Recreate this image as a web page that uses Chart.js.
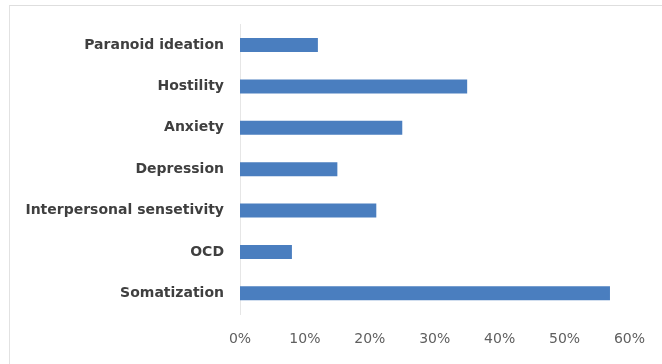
<!DOCTYPE html>
<html>
<head>
<meta charset="utf-8">
<script src="https://cdn.jsdelivr.net/npm/chart.js@4/dist/chart.umd.min.js"></script>
<style>
  html, body { margin: 0; padding: 0; background: #ffffff; }
  #wrap { position: relative; width: 662px; height: 364px; overflow: hidden; }
  #frame { position: absolute; left: 9px; top: 5px; right: -2px; bottom: -2px;
           border-top: 1px solid #dedede; border-left: 1px solid #e2e2e2; }
  canvas { position: absolute; left: 0; top: 0; }
</style>
</head>
<body>
<div id="wrap">
  <div id="frame"></div>
  <canvas id="c" width="662" height="364"></canvas>
</div>
<script>
const categories = [
  "Paranoid ideation",
  "Hostility",
  "Anxiety",
  "Depression",
  "Interpersonal sensetivity",
  "OCD",
  "Somatization"
];
const values = [0.12, 0.35, 0.25, 0.15, 0.21, 0.08, 0.57];
const tickValues = [0, 0.1, 0.2, 0.3, 0.4, 0.5, 0.6];

new Chart(document.getElementById('c'), {
  type: 'bar',
  data: {
    labels: categories,
    datasets: [{
      data: values,
      backgroundColor: '#4a7ebf',
      borderWidth: 0,
      categoryPercentage: 1,
      barPercentage: 0.34
    }]
  },
  options: {
    indexAxis: 'y',
    responsive: false,
    animation: false,
    events: [],
    layout: { padding: { left: 0, right: 32, top: 23, bottom: 0 } },
    plugins: { legend: { display: false }, tooltip: { enabled: false } },
    scales: {
      x: {
        min: 0, max: 0.6,
        afterBuildTicks: (s) => { s.ticks = tickValues.map(v => ({ value: v })); },
        afterFit: (s) => { s.height = 50; },
        grid: { display: false, drawTicks: false },
        border: { display: false },
        ticks: {
          padding: 17,
          color: '#5f5f5f',
          font: { family: 'DejaVu Sans', size: 14 },
          callback: (v) => Math.round(v * 100) + '%'
        }
      },
      y: {
        afterFit: (s) => { s.width = 240; },
        grid: { display: false, drawTicks: false },
        border: { display: true, color: '#e6e6e6', width: 1 },
        ticks: {
          padding: 16,
          color: '#3f3f3f',
          font: { family: 'DejaVu Sans', size: 14, weight: 'bold' }
        }
      }
    }
  }
});
</script>
</body>
</html>
